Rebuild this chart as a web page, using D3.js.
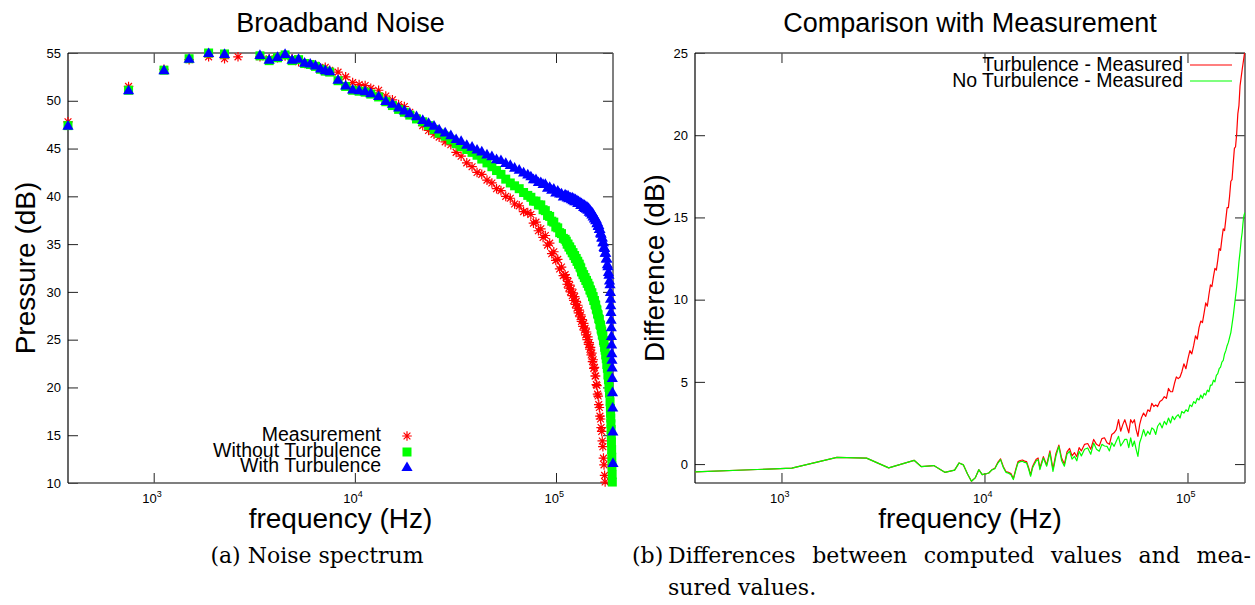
<!DOCTYPE html>
<html><head><meta charset="utf-8">
<script src="https://cdn.jsdelivr.net/npm/d3@7"></script>
<style>
body{margin:0;background:#fff}
svg{display:block}
</style>
</head><body>
<svg id="c" width="1255" height="605"></svg>
<script>
// ---------- DATA ----------
const spectrumFreq = [
  375, 750, 1125, 1500, 1875, 2250, 2625, 3375, 3750, 4125,
  4500, 4875, 5250, 5625, 6000, 6375, 6750, 7125, 7500, 8250,
  9000, 9750, 10500, 11250, 12000, 13125, 14250, 15375, 16500, 17625,
  18750, 20250, 21750, 23250, 24750, 26250, 28125, 30000, 31875, 33750,
  36000, 38250, 40500, 42750, 45375, 48000, 50625, 53250, 56250, 59250,
  62250, 65625, 69000, 72375, 75000, 77250, 79500, 81750, 84000, 86250,
  88500, 90750, 93000, 95250, 97500, 99750, 102000, 104250, 106500, 108750,
  111000, 112500, 113625, 114750, 115875, 117000, 118125, 119250, 120375, 121500,
  122625, 123750, 124875, 126000, 127125, 128250, 129375, 130500, 131625, 132750,
  133875, 135000, 136125, 137250, 138375, 139500, 140625, 141750, 142875, 144000,
  145125, 146250, 147375, 148500, 149625, 150750, 151875, 153000, 154125, 155250,
  156375, 157500, 158625, 159750, 160875, 162000, 163125, 164250, 165375, 166500,
  167625, 168750, 169875, 171000, 172125, 173250, 174375, 175500, 176625, 177750,
  178875, 180000, 181125, 182250, 183375, 184500, 185625, 186375, 186750, 187125,
  187500, 187875, 188250, 188625, 189000, 189375, 189750, 190125, 190500, 190875,
  191250, 191625, 192000
];
const measurement = [
  47.8, 51.5, 53.3, 54.3, 54.6, 54.4, 54.6, 54.6, 54.4, 54.5,
  54.7, 54.4, 54.1, 53.9, 53.8, 53.7, 53.4, 53.5, 53.2, 53.0,
  52.5, 51.9, 51.7, 51.6, 51.3, 51.1, 50.5, 50.1, 49.6, 49.4,
  48.8, 48.2, 47.4, 46.9, 46.5, 46.2, 45.7, 45.4, 44.6, 44.2,
  43.5, 43.1, 42.5, 42.3, 41.7, 41.4, 40.8, 40.6, 40.0, 39.8,
  39.2, 39.0, 38.4, 38.3, 38.1, 37.2, 37.3, 36.4, 36.6, 35.7,
  35.9, 34.9, 35.1, 34.0, 34.2, 33.3, 33.4, 32.4, 32.6, 31.7,
  31.8, 31.5, 30.8, 31.1, 30.4, 30.7, 30.0, 30.3, 29.6, 29.9,
  29.1, 29.5, 28.7, 29.0, 28.3, 28.6, 27.8, 28.1, 27.4, 27.6,
  26.9, 27.1, 26.4, 26.7, 26.0, 26.2, 25.5, 25.8, 25.0, 25.3,
  24.5, 24.7, 24.0, 24.2, 23.4, 23.6, 22.7, 22.9, 22.0, 22.1,
  21.2, 21.2, 20.3, 20.2, 19.3, 19.1, 18.2, 17.9, 17.0, 16.7,
  15.8, 15.4, 14.4, 13.8, 12.6, 11.9, 10.8, 10.1, null, null,
  null, null, null, null, null, null, null, null, null, null,
  null, null, null, null, null, null, null, null, null, null,
  null, null, null
];
const withoutTurbulence = [
  47.4, 51.1, 53.2, 54.4, 55.0, 54.9, null, 54.7, 54.2, 54.5,
  54.8, 54.2, 54.3, 53.9, 53.8, 53.6, 53.3, 53.1, 53.0, 52.1,
  51.5, 51.1, 51.0, 50.9, 50.7, 50.4, 49.9, 49.5, 49.1, 48.8,
  48.5, 48.1, 47.8, 47.4, 47.0, 46.6, 46.3, 45.9, 45.5, 45.2,
  44.9, 44.6, 44.3, 43.9, 43.5, 43.1, 42.7, 42.3, 41.8, 41.4,
  41.1, 40.8, 40.4, 40.1, 39.9, 39.5, 39.5, 39.1, 39.1, 38.6,
  38.5, 38.0, 37.9, 37.4, 37.3, 36.8, 36.7, 36.2, 36.1, 35.6,
  35.5, 35.3, 35.0, 35.0, 34.7, 34.7, 34.4, 34.4, 34.1, 34.1,
  33.8, 33.8, 33.5, 33.5, 33.2, 33.2, 32.9, 32.9, 32.6, 32.5,
  32.1, 32.1, 31.8, 31.8, 31.5, 31.5, 31.2, 31.2, 30.9, 30.9,
  30.6, 30.6, 30.2, 30.2, 29.9, 29.9, 29.5, 29.5, 29.1, 29.1,
  28.7, 28.6, 28.2, 28.1, 27.7, 27.6, 27.2, 27.1, 26.6, 26.5,
  26.1, 25.9, 25.5, 25.4, 24.9, 24.7, 24.2, 23.9, 23.4, 23.0,
  22.4, 22.0, 21.3, 20.8, 20.0, 19.4, 18.5, 17.8, 17.3, 16.8,
  16.2, 15.6, 15.0, 14.3, 13.5, 12.7, 11.8, 10.9, 10.1, null,
  null, null, null
];
const withTurbulence = [
  47.4, 51.1, 53.2, 54.4, 55.0, 54.9, null, 54.8, 54.3, 54.6,
  54.9, 54.3, 54.4, 54.0, 53.9, 53.7, 53.4, 53.2, 53.1, 52.2,
  51.6, 51.2, 51.1, 51.0, 50.8, 50.5, 50.0, 49.7, 49.3, 49.0,
  48.7, 48.4, 48.0, 47.7, 47.4, 47.0, 46.7, 46.4, 46.0, 45.8,
  45.4, 45.2, 44.9, 44.7, 44.4, 44.2, 43.9, 43.8, 43.5, 43.3,
  43.0, 42.8, 42.5, 42.3, 42.1, 41.8, 41.8, 41.5, 41.5, 41.3,
  41.3, 40.9, 41.0, 40.7, 40.8, 40.4, 40.6, 40.3, 40.3, 40.0,
  40.2, 40.1, 39.9, 40.1, 39.8, 39.9, 39.9, 39.7, 39.9, 39.6,
  39.8, 39.5, 39.7, 39.5, 39.6, 39.3, 39.5, 39.3, 39.4, 39.1,
  39.3, 39.1, 39.2, 38.9, 39.1, 38.8, 39.0, 38.7, 38.9, 38.6,
  38.8, 38.4, 38.6, 38.3, 38.4, 38.1, 38.3, 37.9, 38.0, 37.7,
  37.8, 37.5, 37.6, 37.2, 37.3, 36.9, 37.0, 36.6, 36.6, 36.2,
  36.1, 35.7, 35.7, 35.2, 35.2, 34.7, 34.6, 34.1, 34.1, 33.5,
  33.5, 32.9, 32.7, 32.1, 31.8, 31.2, 30.8, 30.0, 29.3, 28.6,
  27.9, 27.1, 26.3, 25.4, 24.5, 23.6, 22.9, 22.1, 21.0, 19.5,
  17.9, 15.4, 12.1
];

const diffFreq = [
  375, 1125, 1875, 2625, 3375, 4500, 4875, 5625, 6375, 7125,
  7500, 7875, 8250, 8625, 9000, 9375, 9750, 10125, 10500, 10875,
  11250, 11625, 12000, 12375, 12750, 13125, 13500, 13875, 14250, 14625,
  15000, 15375, 15750, 16125, 16500, 16875, 17250, 17625, 18000, 18375,
  18750, 19500, 20250, 21000, 21750, 22500, 23250, 24000, 24750, 25500,
  26250, 27000, 27750, 28500, 29250, 30000, 31125, 32250, 33375, 34500,
  35625, 36750, 37875, 39000, 40125, 41250, 42375, 43500, 44625, 45750,
  46875, 48000, 49125, 50250, 51375, 52500, 53625, 54750, 55875, 57000,
  58125, 59250, 60750, 62250, 63750, 65250, 66750, 68250, 69750, 71250,
  73125, 75000, 76875, 78750, 80625, 82500, 84375, 86250, 88125, 90000,
  91875, 93750, 96000, 98250, 100500, 102750, 105000, 107250, 109500, 111750,
  114000, 116250, 118500, 120750, 123000, 125250, 127500, 129750, 132000, 134250,
  136500, 138750, 141000, 143250, 145500, 147750, 150000, 152250, 154500, 156750,
  159000, 161250, 163500, 165750, 168000, 170250, 172500, 174750, 177000, 179250,
  181500, 183750, 186000, 187500, 189000, 190500, 192000
];
const turbMinusMeas = [
  -0.47, -0.25, 0.41, 0.36, -0.23, 0.23, -0.15, -0.09, -0.50, -0.37,
  0.07, -0.05, -0.60, -1.04, -0.84, -0.34, -0.64, -0.60, -0.54, -0.35,
  -0.25, 0.10, 0.32, -0.15, -0.45, -0.50, -0.58, -0.88, -0.32, 0.15,
  0.22, 0.25, 0.18, 0.15, -0.22, -0.66, -0.14, 0.10, 0.30, 0.37,
  -0.24, 0.45, -0.05, 0.80, -0.30, 0.65, 1.15, 0.35, 0.00, 0.75,
  0.95, 0.50, 0.70, 0.45, 1.00, 0.80, 1.20, 1.25, 0.90, 1.50,
  1.20, 1.10, 1.55, 1.60, 1.30, 1.20, 1.80, 1.90, 2.10, 2.70,
  2.00, 2.40, 2.70, 2.30, 1.90, 2.70, 2.50, 2.70, 2.10, 1.69,
  2.40, 2.80, 3.10, 2.90, 3.30, 3.20, 3.70, 3.50, 3.60, 3.50,
  3.80, 3.90, 4.10, 4.00, 4.60, 4.40, 4.40, 4.90, 5.30, 5.20,
  5.30, 5.60, 6.10, 5.80, 6.40, 6.90, 6.70, 7.20, 7.80, 7.60,
  8.30, 8.70, 8.60, 9.20, 9.80, 9.60, 10.30, 10.90, 10.80, 11.40,
  11.90, 11.80, 12.40, 13.10, 13.00, 13.70, 14.30, 14.20, 14.90, 15.60,
  15.60, 16.30, 17.20, 17.30, 18.30, 19.20, 19.30, 20.10, 21.30, 21.80,
  23.00, 23.50, 24.00, 24.30, 24.60, 24.90, 25.10
];
const noTurbMinusMeas = [
  -0.47, -0.25, 0.41, 0.36, -0.23, 0.23, -0.15, -0.09, -0.50, -0.37,
  0.07, -0.05, -0.60, -1.04, -0.84, -0.34, -0.64, -0.60, -0.54, -0.35,
  -0.28, 0.05, 0.27, -0.20, -0.50, -0.55, -0.64, -0.94, -0.40, 0.07,
  0.15, 0.17, 0.10, 0.07, -0.30, -0.74, -0.24, 0.00, 0.20, 0.27,
  -0.34, 0.37, -0.13, 0.68, -0.44, 0.50, 1.08, 0.20, -0.13, 0.60,
  0.78, 0.30, 0.47, 0.20, 0.78, 0.50, 0.90, 0.98, 0.60, 1.28,
  0.90, 0.78, 1.20, 1.10, 1.08, 0.80, 1.30, 1.08, 1.40, 1.69,
  1.10, 1.30, 1.50, 1.50, 1.00, 1.60, 1.08, 1.40, 0.90, 0.47,
  1.30, 1.60, 2.10, 1.70, 2.00, 1.80, 2.20, 2.10, 1.80, 2.30,
  2.50, 2.20, 2.60, 2.40, 2.80, 2.50, 2.90, 2.70, 2.90, 3.00,
  2.80, 3.20, 3.10, 3.30, 3.20, 3.60, 3.50, 3.80, 3.70, 4.00,
  3.90, 4.20, 4.00, 4.30, 4.20, 4.50, 4.40, 4.80, 4.80, 5.10,
  5.00, 5.40, 5.50, 5.80, 5.90, 6.20, 6.30, 6.70, 6.90, 7.20,
  7.40, 7.70, 8.00, 8.50, 9.00, 9.60, 10.20, 10.80, 11.50, 12.30,
  12.90, 13.60, 14.10, 14.60, 15.00, 15.20, 15.30
];

const pressureTicks = [10, 15, 20, 25, 30, 35, 40, 45, 50, 55];
const differenceTicks = [0, 5, 10, 15, 20, 25];
const freqTicks = [1e3, 1e4, 1e5];
const leftLegend = ["Measurement", "Without Turbulence", "With Turbulence"];
const rightLegend = ["Turbulence - Measured", "No Turbulence - Measured"];
const titles = ["Broadband Noise", "Comparison with Measurement"];
const xLabel = "frequency (Hz)";
const yLabels = ["Pressure (dB)", "Difference (dB)"];
const captionA = "(a) Noise spectrum";
const captionBLabel = "(b)";
const captionBLine1 = ["Differences", "between", "computed", "values", "and", "mea-"];
const captionBLine2 = "sured values.";

// ---------- CHART ----------
const SANS = '"Liberation Sans",Arial,sans-serif';
const SERIF = '"DejaVu Serif","Liberation Serif",serif';
const svg = d3.select("#c");
const RED = "#ff0000", GREEN = "#00ff00", BLUE = "#0000ff";

const xL = d3.scaleLog().domain([375, 192000]).range([68, 613]);
const yL = d3.scaleLinear().domain([10, 55]).range([483, 53]);
const xR = d3.scaleLog().domain([375, 192000]).range([695, 1245]);
const yR = d3.scaleLinear().domain([-1.15, 25]).range([483, 53]);

function txt(parent, family) {
  return parent.append("text").style("font-family", family || SANS).attr("fill", "#000");
}

function frame(x, y, yTicks, title, yLabel, yLabX) {
  const [x0, x1] = x.range();
  const [y1, y0] = y.range();
  const g = svg.append("g");
  const styleAxis = sel => {
    sel.select(".domain").remove();
    sel.selectAll(".tick line").attr("stroke", "#222").attr("stroke-width", 1);
    sel.selectAll("text").style("font-family", SANS).attr("font-size", 13).attr("fill", "#000");
  };
  g.append("g").attr("transform", `translate(${x0},0)`)
    .call(d3.axisLeft(y).tickValues(yTicks).tickSize(-10).tickPadding(7)).call(styleAxis);
  g.append("g").attr("transform", `translate(${x1},0)`)
    .call(d3.axisRight(y).tickValues(yTicks).tickSize(-10).tickFormat(() => "")).call(styleAxis);
  g.append("g").attr("transform", `translate(0,${y0})`)
    .call(d3.axisTop(x).tickValues(freqTicks).tickSize(-10).tickFormat(() => "")).call(styleAxis);
  const bx = g.append("g").attr("transform", `translate(0,${y1})`)
    .call(d3.axisBottom(x).tickValues(freqTicks).tickSize(-10).tickFormat(() => "")).call(styleAxis);
  bx.selectAll(".tick").each(function (d) {
    const t = txt(d3.select(this)).attr("x", -12).attr("y", 20)
      .attr("text-anchor", "start").attr("font-size", 13);
    t.append("tspan").text("10");
    t.append("tspan").attr("dy", -6).attr("font-size", 9).text(Math.round(Math.log10(d)));
  });
  const edge = (a, b, c, d, col, w) => g.append("line").attr("x1", a).attr("y1", b).attr("x2", c).attr("y2", d)
    .attr("stroke", col).attr("stroke-width", w);
  edge(x0, y0, x1, y0, "#555", 1.5);
  edge(x0, y1, x1, y1, "#555", 1.5);
  edge(x1, y0, x1, y1, "#555", 1.5);
  edge(x0, y0, x0, y1, "#000", 1.2);
  txt(svg).attr("x", (x0 + x1) / 2).attr("y", 32).attr("text-anchor", "middle").attr("font-size", 27).text(title);
  txt(svg).attr("x", (x0 + x1) / 2).attr("y", 528).attr("text-anchor", "middle").attr("font-size", 28).text(xLabel);
  txt(svg).attr("transform", `translate(${yLabX},${(y0 + y1) / 2}) rotate(-90)`)
    .attr("text-anchor", "middle").attr("font-size", 28).text(yLabel);
}

frame(xL, yL, pressureTicks, titles[0], yLabels[0], 35);
frame(xR, yR, differenceTicks, titles[1], yLabels[1], 664);

// ---------- left: markers ----------
const starPath = "M-4.8,0H4.8M0,-4.8V4.8M-3.4,-3.4L3.4,3.4M-3.4,3.4L3.4,-3.4";
const squarePath = "M-4.5,-4.5H4.5V4.5H-4.5Z";
const triPath = "M0,-5.6L5.6,4.1L-5.6,4.1Z";

function markers(vals, path, fill, stroke) {
  const pts = spectrumFreq.map((f, i) => [f, vals[i]]).filter(d => d[1] != null);
  svg.append("g").selectAll("path").data(pts).join("path")
    .attr("transform", d => `translate(${xL(d[0])},${yL(d[1])})`)
    .attr("d", path).attr("fill", fill).attr("stroke", stroke).attr("stroke-width", stroke === "none" ? 0 : 1.2);
}
markers(measurement, starPath, "none", RED);
markers(withoutTurbulence, squarePath, GREEN, "none");
markers(withTurbulence, triPath, BLUE, "none");

// left legend
const legY = [436, 452, 467];
const legPaths = [[starPath, "none", RED], [squarePath, GREEN, "none"], [triPath, BLUE, "none"]];
leftLegend.forEach((name, i) => {
  txt(svg).attr("x", 381).attr("y", legY[i] + 5).attr("text-anchor", "end").attr("font-size", 19.5).text(name);
  svg.append("path").attr("transform", `translate(407,${legY[i]})`).attr("d", legPaths[i][0])
    .attr("fill", legPaths[i][1]).attr("stroke", legPaths[i][2]).attr("stroke-width", legPaths[i][2] === "none" ? 0 : 1.2);
});

// ---------- right: lines ----------
svg.append("clipPath").attr("id", "clipR").append("rect")
  .attr("x", 695).attr("y", 53).attr("width", 550).attr("height", 430);
const line = d3.line().x(d => xR(d[0])).y(d => yR(d[1]));
const seriesR = [[turbMinusMeas, RED], [noTurbMinusMeas, GREEN]];
seriesR.forEach(([vals, col]) => {
  svg.append("path").datum(diffFreq.map((f, i) => [f, vals[i]]))
    .attr("clip-path", "url(#clipR)")
    .attr("d", line).attr("fill", "none").attr("stroke", col).attr("stroke-width", 1.2)
    .attr("stroke-linejoin", "round");
});
const legRY = [65, 81];
rightLegend.forEach((name, i) => {
  txt(svg).attr("x", 1183).attr("y", legRY[i] + 6).attr("text-anchor", "end").attr("font-size", 19.5).text(name);
  svg.append("line").attr("x1", 1190).attr("x2", 1232).attr("y1", legRY[i]).attr("y2", legRY[i])
    .attr("stroke", seriesR[i][1]).attr("stroke-width", 1.2);
});

// ---------- captions ----------
txt(svg, SERIF).attr("x", 317).attr("y", 563).attr("text-anchor", "middle").attr("font-size", 22).text(captionA);
txt(svg, SERIF).attr("x", 632).attr("y", 563).attr("font-size", 22).text(captionBLabel);
const words = captionBLine1.map(w => txt(svg, SERIF).attr("y", 563).attr("font-size", 22).text(w));
const widths = words.map(t => t.node().getComputedTextLength());
const startX = 668, endX = 1251;
const gap = (endX - startX - d3.sum(widths)) / (words.length - 1);
let cx = startX;
words.forEach((t, i) => { t.attr("x", cx); cx += widths[i] + gap; });
txt(svg, SERIF).attr("x", 668).attr("y", 595).attr("font-size", 22).text(captionBLine2);
</script>
</body></html>
